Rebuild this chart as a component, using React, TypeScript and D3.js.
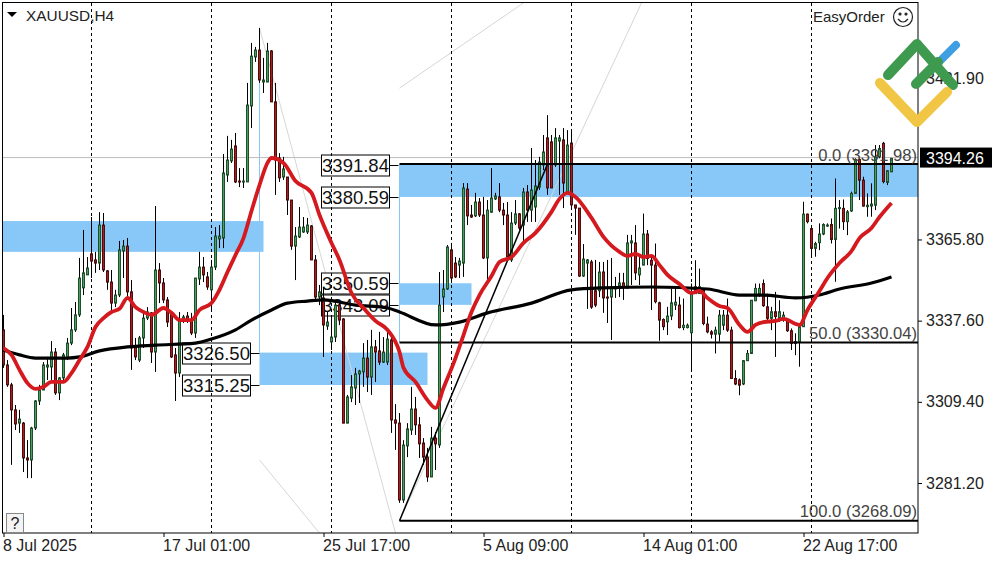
import { useRef, useEffect } from 'react';
import * as d3 from 'd3';

const WIDTH = 1000;
const HEIGHT = 562;
const PLOT = { left: 3, right: 918, top: 3, bottom: 533 };
const FONT = '"Liberation Sans", Arial, sans-serif';

// bars: [open, high, low, close], one row per H4 candle
const ohlc: [number, number, number, number][] = [
  [3334.4, 3339.6, 3321.2, 3322.2], [3322.2, 3323.9, 3314.6, 3315.3], [3315.3, 3316, 3287.5, 3306.6], [3306.6, 3308.3, 3299.6, 3301.7],
  [3302, 3306.6, 3298.6, 3303.4], [3302, 3302.4, 3285, 3289.9], [3289.9, 3296.1, 3282.9, 3289.2], [3289.2, 3300.7, 3282.9, 3300.3],
  [3300.3, 3310, 3299.6, 3309.7], [3309.7, 3315.3, 3308.3, 3313.5], [3313.5, 3323.2, 3313.5, 3322.2], [3321.5, 3325, 3317, 3322.2],
  [3321.5, 3330.5, 3317, 3326.7], [3326.7, 3328.1, 3311.8, 3312.5], [3312.5, 3318, 3310, 3317.7], [3317.7, 3326.4, 3315.9, 3325.7],
  [3324.6, 3331.6, 3323.9, 3329.8], [3329.8, 3342, 3329.1, 3334.4], [3334.4, 3344.1, 3333.7, 3339.6], [3339.6, 3359.4, 3338.9, 3352.4],
  [3349, 3369.1, 3346.5, 3354.2], [3353.5, 3359.7, 3353.5, 3355.9], [3360.8, 3373.6, 3352.4, 3358.3], [3358.7, 3361.5, 3354.2, 3357.6],
  [3357.6, 3375.3, 3355.2, 3370.8], [3370.8, 3375, 3354.5, 3355.2], [3354.9, 3355.2, 3348.3, 3351], [3351, 3355.2, 3340.6, 3343.7],
  [3343.7, 3348.3, 3342.3, 3346.5], [3346.5, 3365.3, 3345.8, 3362.2], [3361.8, 3365.6, 3352.4, 3363.5], [3363.5, 3366.3, 3344.8, 3347.6],
  [3347.6, 3351.7, 3320.5, 3328.1], [3328.5, 3331.6, 3323.9, 3325], [3323.9, 3332.3, 3323.2, 3331.6], [3331.6, 3340.6, 3328.1, 3338.5],
  [3338.5, 3342.3, 3337.8, 3340.6], [3340.3, 3340.6, 3322.9, 3326.7], [3326.7, 3377.4, 3319.8, 3355.2], [3355.2, 3357.6, 3343.7, 3350.7],
  [3350.7, 3352.4, 3343.7, 3344.8], [3344.8, 3345.8, 3335.4, 3337.1], [3340.3, 3340.6, 3324.6, 3325], [3325.7, 3328.1, 3309.7, 3319.4],
  [3319.4, 3340.6, 3318, 3337.8], [3337.8, 3339.6, 3336.8, 3338.9], [3339.2, 3340.6, 3336.8, 3337.8], [3337.8, 3340.3, 3332.6, 3333.3],
  [3333.3, 3352.4, 3331.6, 3352.4], [3352.1, 3361.5, 3350, 3356.2], [3356.2, 3359.7, 3351, 3353.5], [3352.8, 3354.5, 3348.3, 3349.3],
  [3348.3, 3358.7, 3341.3, 3356.2], [3356.2, 3370.1, 3355.2, 3367], [3366, 3370.8, 3362.8, 3367], [3366.3, 3395.5, 3362.8, 3388.9],
  [3388.2, 3401.8, 3385.8, 3393.4], [3393.1, 3400.4, 3392.4, 3397.2], [3398.3, 3402.8, 3385.4, 3385.8], [3386.1, 3390.6, 3384, 3385.8],
  [3385.8, 3390.6, 3383.7, 3386.1], [3385.8, 3420.2, 3385.8, 3412.5], [3412.2, 3434.1, 3404.5, 3429.5], [3429.2, 3432.7, 3427.5, 3431.6],
  [3431.6, 3439.3, 3420.2, 3421.2], [3420.5, 3428.9, 3416.7, 3421.2], [3420.5, 3434.1, 3420.5, 3431.3], [3431.3, 3431.6, 3413.6, 3413.6],
  [3413.6, 3420.2, 3381.3, 3393.4], [3394.1, 3395.8, 3385.8, 3387.2], [3387.5, 3394.5, 3386.5, 3390.3], [3387.5, 3387.5, 3374.3, 3379.5],
  [3379.5, 3379.5, 3362.2, 3363.5], [3363.5, 3370.1, 3351.7, 3367], [3366.7, 3377.1, 3366.3, 3370.1], [3368.4, 3373.6, 3368.1, 3370.1],
  [3368.4, 3373.3, 3367.7, 3370.8], [3370.5, 3370.8, 3358.7, 3358.7], [3358.7, 3360.4, 3344.8, 3345.8], [3345.8, 3350, 3343, 3347.6],
  [3345.5, 3349.3, 3325, 3336.1], [3335.7, 3340.6, 3334.4, 3337.1], [3330.2, 3338.9, 3327.4, 3331.9], [3331.9, 3344.8, 3330.2, 3343],
  [3343, 3344.8, 3336.1, 3337.8], [3338.2, 3338.5, 3302, 3302], [3302, 3311.8, 3302, 3311.1], [3310.7, 3318.7, 3309.3, 3314.6],
  [3314.2, 3321.2, 3308.3, 3319.1], [3319.1, 3320.5, 3309, 3320.1], [3319.8, 3329.8, 3314.6, 3324.6], [3324.6, 3330.9, 3312.8, 3318],
  [3318, 3334.4, 3311.8, 3328.5], [3328.5, 3330.9, 3316.3, 3326.7], [3327.1, 3333.7, 3322.2, 3323.2], [3323.2, 3331.9, 3322.9, 3326.7],
  [3323.2, 3334.4, 3322.2, 3331.2], [3330.9, 3333.3, 3298.6, 3303.1], [3303.1, 3308.6, 3292.7, 3302], [3302, 3305.5, 3274.3, 3275.3],
  [3275.3, 3296.1, 3274.3, 3294.4], [3294.1, 3302, 3290.2, 3300], [3299.6, 3314.6, 3297.9, 3306.9], [3306.9, 3311.1, 3297.9, 3301.4],
  [3301.4, 3304.1, 3289.9, 3294.8], [3295.1, 3296.8, 3287.5, 3290.2], [3290.2, 3293.4, 3281.6, 3283.3], [3283.3, 3300.7, 3283.3, 3296.8],
  [3296.8, 3298.9, 3285.7, 3294.8], [3294.4, 3354.5, 3293.4, 3343], [3345.8, 3355.2, 3340.6, 3348.6], [3348.6, 3363.9, 3348.3, 3363.2],
  [3362.2, 3364.6, 3350.7, 3352.4], [3357.6, 3359.7, 3352.4, 3352.8], [3356.9, 3359.4, 3352.4, 3358.3], [3357.6, 3385.4, 3352.8, 3383.7],
  [3383.3, 3385.4, 3370.8, 3374], [3374.3, 3377.8, 3373.3, 3373.6], [3374, 3382, 3373.6, 3378.8], [3378.8, 3380.2, 3373.6, 3374.3],
  [3374.3, 3380.6, 3359, 3359.4], [3359.4, 3379.5, 3351.7, 3376], [3375.3, 3390.6, 3375, 3380.2], [3379.9, 3382, 3379.5, 3380.9],
  [3380.6, 3385.4, 3375.3, 3376], [3376, 3378.5, 3370.8, 3374.3], [3374.3, 3378.8, 3359.4, 3359.7], [3358.7, 3375.3, 3358, 3371.5],
  [3371.5, 3379.5, 3370.8, 3374.7], [3374.7, 3375, 3369.1, 3369.8], [3370.8, 3383.7, 3364.9, 3382.3], [3382.3, 3384.7, 3371.9, 3376],
  [3376, 3397.6, 3371.9, 3383], [3377.1, 3393.4, 3371.9, 3384.4], [3384, 3394.5, 3383, 3392.7], [3391.7, 3402.1, 3389.9, 3396.2],
  [3401.1, 3409, 3381.3, 3383.7], [3399.7, 3402.1, 3383.7, 3383.7], [3391.7, 3404.5, 3391, 3401.1], [3400, 3402.1, 3381.3, 3401.1],
  [3400.4, 3404.5, 3376.7, 3385.4], [3382.3, 3403.8, 3382, 3398.6], [3399.3, 3403.8, 3376.7, 3377.8], [3377.8, 3377.8, 3367.4, 3376.7],
  [3376.7, 3376.7, 3352.8, 3353.1], [3353.1, 3364.2, 3352.8, 3359], [3357.6, 3359, 3341.7, 3358.7], [3358, 3358.7, 3341.7, 3342.3],
  [3348, 3358.7, 3342.3, 3343], [3348, 3358, 3345.8, 3354.5], [3354.5, 3358, 3340.3, 3345.5], [3345.8, 3358.7, 3336.8, 3345.5],
  [3345.8, 3359.4, 3330.9, 3349], [3348.6, 3352.8, 3345.5, 3349], [3349.7, 3354.2, 3345.8, 3350.7], [3350.7, 3354.2, 3344.8, 3349.3],
  [3349, 3367.4, 3348.6, 3364.6], [3364.6, 3367.4, 3350, 3365.3], [3364.6, 3370.8, 3351.7, 3354.2], [3353.5, 3359.7, 3350, 3355.9],
  [3356.9, 3374.8, 3356.9, 3367.7], [3367.7, 3369.1, 3356.9, 3359.2], [3358.6, 3360.4, 3341.3, 3356.9], [3356.9, 3364.4, 3343.6, 3344.2],
  [3343.8, 3344.2, 3330.6, 3337.8], [3338, 3338.4, 3334.3, 3335.5], [3337.2, 3342.4, 3332.6, 3339.2], [3339.2, 3348.8, 3337.8, 3343.8],
  [3343, 3349.4, 3341.3, 3344], [3343, 3345.9, 3334.9, 3335.2], [3335.2, 3345.3, 3334.3, 3336], [3335.2, 3336.6, 3334.9, 3336],
  [3333.4, 3350.5, 3320.4, 3347], [3349.4, 3358.6, 3347, 3347], [3347, 3355.7, 3347, 3349.4], [3348.2, 3348.8, 3336, 3336.6],
  [3336.4, 3339, 3333.2, 3333.7], [3333.7, 3334.3, 3331.4, 3332.9], [3332.9, 3335.5, 3326.2, 3334.3], [3332.9, 3341.3, 3330.3, 3339.5],
  [3336, 3341.3, 3334.3, 3339.5], [3339.5, 3345.3, 3333.7, 3334.3], [3334.3, 3335.5, 3317.5, 3317.5], [3317.5, 3320.4, 3315.2, 3315.6],
  [3317, 3317.5, 3311.7, 3315.2], [3315.6, 3323.9, 3315.2, 3323.7], [3323.7, 3327.4, 3323.7, 3326.2], [3326.2, 3344.7, 3326, 3344.7],
  [3344.5, 3350.5, 3344.5, 3348.8], [3347, 3350.5, 3345.9, 3348.8], [3350.5, 3351.9, 3342.4, 3342.8], [3342.4, 3347, 3337.8, 3338.4],
  [3338.4, 3342.4, 3334.3, 3340.7], [3340.7, 3347.6, 3325, 3339], [3338.4, 3344.7, 3337.2, 3340.7], [3337.8, 3340.7, 3337.2, 3339.5],
  [3337.6, 3337.8, 3333.7, 3334.1], [3334.1, 3334.9, 3327.4, 3329.7], [3330.3, 3333.2, 3325.6, 3329.7], [3330.3, 3335.5, 3321.6, 3335.5],
  [3335.5, 3378.9, 3335.5, 3374.6], [3374.6, 3374.8, 3371.4, 3372], [3369.6, 3370.8, 3359.8, 3362.7], [3362.7, 3365, 3359.8, 3364.4],
  [3364.7, 3371.4, 3362.1, 3367.7], [3367.7, 3371.4, 3367.3, 3371], [3370.5, 3371.4, 3370.2, 3370.8], [3371, 3373.1, 3364.4, 3365.8],
  [3365.8, 3387, 3351.1, 3376.6], [3376.5, 3379.5, 3369.6, 3376.9], [3376.6, 3379.7, 3369.1, 3372], [3372, 3376, 3367.3, 3375.4],
  [3375.7, 3382.4, 3375.4, 3381.8], [3381.8, 3394, 3381.8, 3393.6], [3393.6, 3394, 3379.5, 3386.4], [3386.4, 3387.6, 3377.2, 3377.4],
  [3377.2, 3381.8, 3373.7, 3377.7], [3377.4, 3385.3, 3373.7, 3378.1], [3377.7, 3398.6, 3376, 3394.5], [3394.5, 3398.6, 3394, 3397.4],
  [3399.2, 3399.7, 3385.3, 3385.9], [3385.6, 3389.9, 3384.7, 3389.7], [3389.3, 3394, 3389.3, 3394],
];

const redBars = [0, 2, 4, 6, 8, 10, 12, 15, 17, 19, 21, 23, 25, 27, 29, 31, 33, 35, 37, 40, 42, 44, 47, 49, 52, 54, 56, 58, 60, 62, 64, 66, 67, 70, 73, 77, 79, 82, 84, 87, 90, 93, 96, 99, 100, 103, 106, 108, 110, 113, 115, 117, 119, 122, 124, 127, 130, 133, 137, 139, 141, 143, 147, 150, 154, 156, 158, 160, 162, 164, 166, 169, 172, 174, 176, 179, 181, 184, 186, 188, 190, 193, 195, 199, 201, 204, 206, 209, 212, 214, 217, 219, 222];
const redValues = [3328.1, 3325.7, 3320.5, 3315.9, 3313.9, 3314.6, 3316.3, 3316.3, 3319.4, 3323.9, 3328.5, 3335.4, 3338.5, 3340.6, 3341.7, 3345.5, 3342.3, 3340.6, 3339.6, 3342, 3340.3, 3337.8, 3337.8, 3341.3, 3343.7, 3348.3, 3354.5, 3360.4, 3366.3, 3375.7, 3384.7, 3392.4, 3394.1, 3392.4, 3386.1, 3382, 3374.3, 3364.6, 3358.7, 3347.2, 3342, 3337.5, 3334.4, 3326.7, 3321.2, 3316.3, 3310, 3307.3, 3314.2, 3324.6, 3332.6, 3340.6, 3346.5, 3353.1, 3358, 3359.7, 3364.6, 3368.1, 3375.4, 3379.9, 3382, 3380.6, 3373.3, 3366.7, 3361.5, 3360.1, 3360.8, 3359.7, 3360.1, 3356.9, 3353.5, 3350.3, 3347.2, 3347.9, 3345.5, 3342.7, 3342, 3336.1, 3333.7, 3336.1, 3337.1, 3337.5, 3338.2, 3336.1, 3341.3, 3347.9, 3352.4, 3357.6, 3361.8, 3366.3, 3369.8, 3373.6, 3378.5];

// slow moving average
const blackBars = [0, 4, 8, 16, 19, 24, 31, 38, 48, 52, 58, 62, 67, 71, 76, 80, 88, 96, 99, 108, 114, 121, 132, 142, 150, 162, 176, 184, 190, 198, 204, 209, 217, 222];
const blackValues = [3327.4, 3325.7, 3324.6, 3324.6, 3325, 3327.1, 3328.5, 3329.1, 3329.8, 3331.2, 3334.4, 3337.8, 3341.3, 3343.7, 3344.4, 3344.8, 3343, 3342, 3340.6, 3336.1, 3337.1, 3340.3, 3343.7, 3348.3, 3349, 3349.3, 3348.6, 3346.5, 3346.5, 3345.5, 3346.5, 3348.6, 3350.7, 3352.8];

const priceTicks = [3281.2, 3309.4, 3337.6, 3365.8, 3421.9];
const lastPrice = 3394.26;
const timeTickBars = [0, 40, 80, 120, 160, 200];
const timeTickLabels = ['8 Jul 2025', '17 Jul 01:00', '25 Jul 17:00', '5 Aug 09:00', '14 Aug 01:00', '22 Aug 17:00'];
const separatorBars = [22, 52, 82, 112, 142, 172, 202];

// supply/demand zones: [from bar, to bar, top price, bottom price]
const zones: [number, number, number, number][] = [
  [-1, 65, 3372.2, 3361.5],
  [64, 106, 3326.5, 3315.25],
  [99, 117, 3350.59, 3343.09],
  [99, 229, 3391.84, 3380.59],
];
const zoneLabels: [number, number][] = [
  [64, 3326.5], [64, 3315.25], [99, 3391.84], [99, 3380.59], [99, 3350.59], [99, 3343.09],
];
const fibLevels: [string, number][] = [['0.0', 3391.98], ['50.0', 3330.04], ['100.0', 3268.09]];
const fibStartBar = 99;
const fibEndBar = 136;
// thin grey trend lines: [bar, price, bar, price]
const greyLines: [number, number, number, number][] = [
  [99, 3418.4, 130, 3448],
  [99, 3268.09, 159.5, 3448],
  [64, 3439.3, 98, 3263.8],
  [64, 3289.2, 79, 3263.8],
];

export default function App() {
  const svgRef = useRef<SVGSVGElement>(null);

  useEffect(() => {
    if (!svgRef.current) return;
    const svg = d3.select(svgRef.current);
    svg.selectAll('*').remove();
    svg.style('font-family', FONT);

    const x = d3.scaleLinear().domain([0, 228.625]).range([3.5, 918]);
    const y = d3.scaleLinear().domain([3281.2, 3421.9]).range([483, 78]);

    svg.append('defs').append('clipPath').attr('id', 'plot-clip').append('rect')
      .attr('x', PLOT.left).attr('y', PLOT.top)
      .attr('width', PLOT.right - PLOT.left).attr('height', PLOT.bottom - PLOT.top);

    const plot = svg.append('g').attr('clip-path', 'url(#plot-clip)');

    // zones
    plot.append('g').selectAll('rect').data(zones).join('rect')
      .attr('x', (d) => x(d[0]))
      .attr('width', (d) => x(d[1]) - x(d[0]))
      .attr('y', (d) => y(d[2]))
      .attr('height', (d) => y(d[3]) - y(d[2]))
      .attr('fill', '#87c8f8');

    // thin blue verticals the zones hang from
    plot.append('line').attr('x1', x(64)).attr('x2', x(64)).attr('y1', 80).attr('y2', y(3326.5))
      .attr('stroke', '#87c8f8');
    plot.append('line').attr('x1', x(99)).attr('x2', x(99)).attr('y1', y(3391.84)).attr('y2', y(3330.04))
      .attr('stroke', '#87c8f8');

    // grey trend lines and last price line
    plot.append('g').selectAll('line').data(greyLines).join('line')
      .attr('x1', (d) => x(d[0])).attr('y1', (d) => y(d[1]))
      .attr('x2', (d) => x(d[2])).attr('y2', (d) => y(d[3]))
      .attr('stroke', '#d6d6d6');
    plot.append('line').attr('x1', PLOT.left).attr('x2', PLOT.right)
      .attr('y1', y(lastPrice)).attr('y2', y(lastPrice)).attr('stroke', '#bdbdbd');

    // price labels next to the zones
    const labels = plot.append('g').selectAll('g').data(zoneLabels).join('g')
      .attr('transform', (d) => `translate(${Math.round(x(d[0])) - 9.5},${Math.round(y(d[1])) + 0.5})`);
    labels.append('line').attr('x1', 0).attr('x2', 9).attr('stroke', '#000');
    labels.append('rect').attr('x', -68).attr('y', -10.5).attr('width', 68).attr('height', 21)
      .attr('fill', '#fff').attr('stroke', '#000');
    labels.append('text').attr('x', -34).attr('y', 6.5).attr('text-anchor', 'middle')
      .attr('font-size', 18.5).attr('fill', '#111').text((d) => d[1].toFixed(2));

    // period separators
    plot.append('g').selectAll('line').data(separatorBars).join('line')
      .attr('x1', (d) => x(d)).attr('x2', (d) => x(d))
      .attr('y1', PLOT.top).attr('y2', PLOT.bottom)
      .attr('stroke', '#000').attr('stroke-dasharray', '3,3');

    // candles
    const candles = plot.append('g').selectAll('g').data(ohlc).join('g');
    candles.append('line')
      .attr('x1', (_, i) => x(i)).attr('x2', (_, i) => x(i))
      .attr('y1', (d) => y(d[1])).attr('y2', (d) => y(d[2]))
      .attr('stroke', '#000');
    candles.append('rect')
      .attr('x', (_, i) => x(i) - 1).attr('width', 2)
      .attr('y', (d) => y(Math.max(d[0], d[3])))
      .attr('height', (d) => Math.max(1, Math.abs(y(d[0]) - y(d[3]))))
      .attr('fill', (d) => (d[3] >= d[0] ? '#4f9c60' : '#b01c1c'))
      .attr('stroke', (d) => (d[3] >= d[0] ? '#1f4f2a' : '#4a0e0e'));

    // fib levels and anchor line
    plot.append('g').selectAll('line').data(fibLevels).join('line')
      .attr('x1', x(fibStartBar)).attr('x2', PLOT.right)
      .attr('y1', (d) => y(d[1])).attr('y2', (d) => y(d[1]))
      .attr('stroke', '#000').attr('stroke-width', 2);
    plot.append('line')
      .attr('x1', x(fibStartBar)).attr('y1', y(3268.09))
      .attr('x2', x(fibEndBar)).attr('y2', y(3391.98))
      .attr('stroke', '#000').attr('stroke-width', 1.5);
    plot.append('g').selectAll('text').data(fibLevels).join('text')
      .attr('x', PLOT.right - 1).attr('y', (d) => y(d[1]) - 3.5)
      .attr('text-anchor', 'end').attr('font-size', 16.6).attr('fill', '#444')
      .text((d) => `${d[0]} (${d[1].toFixed(2)})`);

    // moving averages
    const maLine = d3.line<number>().curve(d3.curveMonotoneX);
    plot.append('path')
      .attr('d', maLine.x((b) => x(b)).y((_, i) => y(blackValues[i]))(blackBars))
      .attr('fill', 'none').attr('stroke', '#000').attr('stroke-width', 3.2);
    plot.append('path')
      .attr('d', maLine.x((b) => x(b)).y((_, i) => y(redValues[i]))(redBars))
      .attr('fill', 'none').attr('stroke', '#d4191f').attr('stroke-width', 3.8);

    // frame
    svg.append('rect')
      .attr('x', PLOT.left - 0.5).attr('y', PLOT.top - 0.5)
      .attr('width', PLOT.right - PLOT.left + 0.5).attr('height', PLOT.bottom - PLOT.top + 0.5)
      .attr('fill', 'none').attr('stroke', '#000');

    // price axis
    const yAxis = svg.append('g').attr('transform', `translate(${PLOT.right},0)`)
      .call(d3.axisRight(y).tickValues(priceTicks).tickSize(4).tickPadding(4).tickFormat((d) => (d as number).toFixed(2)));
    yAxis.select('.domain').remove();
    yAxis.selectAll('text').attr('font-size', 16).attr('font-family', FONT).attr('fill', '#222');
    yAxis.selectAll('line').attr('stroke', '#000');

    // time axis
    const xAxis = svg.append('g').attr('transform', `translate(0,${PLOT.bottom})`)
      .call(d3.axisBottom(x).tickValues(timeTickBars).tickSize(4).tickPadding(3)
        .tickFormat((_, i) => timeTickLabels[i]));
    xAxis.select('.domain').remove();
    xAxis.selectAll('text').attr('font-size', 16).attr('font-family', FONT).attr('fill', '#222')
      .attr('text-anchor', 'start').attr('dx', -1);
    xAxis.selectAll('line').attr('stroke', '#000');

    // last price tag
    const tag = svg.append('g').attr('transform', `translate(920,${y(lastPrice)})`);
    tag.append('rect').attr('y', -10).attr('width', 72).attr('height', 20).attr('fill', '#000');
    tag.append('text').attr('x', 6).attr('y', 6).attr('font-size', 16).attr('fill', '#fff').text(lastPrice.toFixed(2));

    // title and terminal furniture
    svg.append('path').attr('d', 'M7 12 L17 12 L12 17 Z').attr('fill', '#000');
    svg.append('text').attr('x', 26).attr('y', 21).attr('font-size', 15.4).attr('fill', '#222').text('XAUUSD,H4');
    svg.append('text').attr('x', 813).attr('y', 22).attr('font-size', 15).attr('fill', '#222').text('EasyOrder');
    const smile = svg.append('g').attr('transform', 'translate(903,17)').attr('fill', 'none').attr('stroke', '#222').attr('stroke-width', 1.2);
    smile.append('circle').attr('r', 9.5);
    smile.append('circle').attr('cx', -3).attr('cy', -3).attr('r', 1).attr('fill', '#222');
    smile.append('circle').attr('cx', 3).attr('cy', -3).attr('r', 1).attr('fill', '#222');
    smile.append('path').attr('d', 'M-5 2 Q0 8 5 2');
    svg.append('rect').attr('x', 6.5).attr('y', 513.5).attr('width', 17).attr('height', 19)
      .attr('fill', '#f4f4f4').attr('stroke', '#888');
    svg.append('text').attr('x', 15).attr('y', 529).attr('text-anchor', 'middle').attr('font-size', 16).attr('fill', '#222').text('?');

    // logo overlay
    const logo = svg.append('g').attr('fill', 'none').attr('stroke-linecap', 'round').attr('stroke-linejoin', 'round');
    logo.append('path').attr('d', 'M938 63 L956 45').attr('stroke', '#3f9fe3').attr('stroke-width', 8);
    logo.append('path').attr('d', 'M888 75 L917 44 L953 85 M916 84 L938 62').attr('stroke', '#3e9a4f').attr('stroke-width', 10);
    logo.append('path').attr('d', 'M880 83 L917 122 L947 92').attr('stroke', '#f1c644').attr('stroke-width', 10);
  }, []);

  return (
    <div style={{ position: 'fixed', left: 0, top: 0, background: '#fff' }}>
      <svg ref={svgRef} width={WIDTH} height={HEIGHT} viewBox={`0 0 ${WIDTH} ${HEIGHT}`} style={{ display: 'block' }} />
    </div>
  );
}
